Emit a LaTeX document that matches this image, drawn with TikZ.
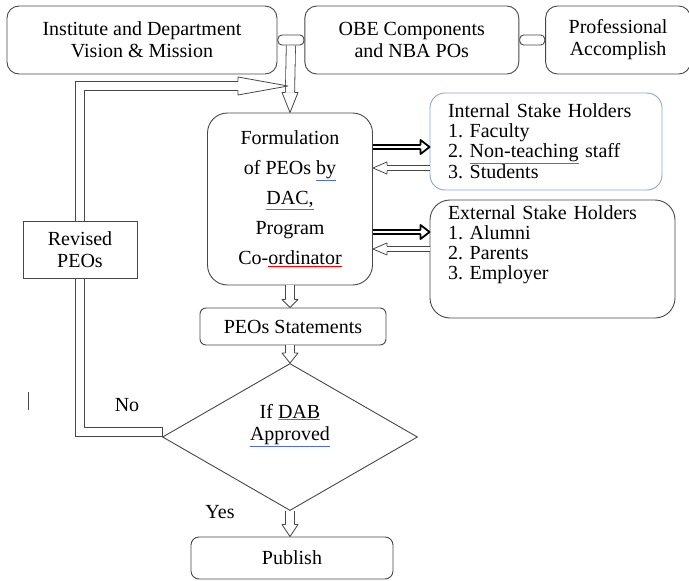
\documentclass[tikz,border=0pt]{standalone}
\usepackage{fontspec}
\setmainfont{Liberation Serif}
\frenchspacing
\usetikzlibrary{positioning,calc,shapes.geometric}

\definecolor{linegray}{HTML}{474747}
\definecolor{stakeblue}{HTML}{8DA5C8}
\definecolor{gramblue}{HTML}{4F6FD0}

\newcommand{\gramline}[1]{\textcolor{gramblue}{\underline{\textcolor{black}{#1}}}}
\newcommand{\spellline}[1]{\textcolor{red}{\underline{\textcolor{black}{#1}}}}

\tikzset{
  pics/hollow head/.style n args={3}{code={
    \draw[fill=white, line join=round] (0,-#2) -- (0,-#3) -- (#1,0) -- (0,#3) -- (0,#2);
  }},
}

\begin{document}
\begin{tikzpicture}[x=1pt, y=-1pt,
    box/.style={draw=linegray, line width=0.9pt, rounded corners=12pt, align=center, inner sep=0pt, font=\fontsize{20}{22}\selectfont},
    link/.style={draw=linegray, line width=0.9pt, rounded corners=4pt, minimum width=26pt, minimum height=10pt, inner sep=0pt},
    stake/.style={box, align=left, inner xsep=18pt, inner ysep=0pt, font=\fontsize{20}{20}\selectfont},
    pipe/.style={draw=linegray, double=white, double distance=8.4pt, line width=0.8pt},
    boldpipe/.style={draw=black, double=white, double distance=1.4pt, line width=2.2pt},
    thinpipe/.style={draw=linegray, double=white, double distance=4.6pt, line width=0.8pt},
    head/.style={color=linegray, line width=0.8pt},
    boldhead/.style={color=black, line width=1.8pt}]

  \useasboundingbox (0,0) rectangle (689,581);

  \node[box, minimum width=270pt, minimum height=68pt] (inst) at (142,40) {Institute and Department\\Vision \& Mission};
  \node[link] (conA) [right=0pt of inst] {};
  \node[box, minimum width=214pt, minimum height=68pt] (obe) [right=0pt of conA] {OBE Components\\and NBA POs};
  \node[link, minimum width=25pt] (conB) [right=0pt of obe] {};
  \node[box, minimum width=145pt, minimum height=68pt] (prof) [right=0pt of conB] {Professional\\Accomplish};

  \node[box, rounded corners=20pt, minimum width=165pt, minimum height=172pt, font=\fontsize{20}{30}\selectfont] (formul) at (290,199) {Formulation\\of PEOs \gramline{by}\\\gramline{DAC,}\\Program\\Co-\spellline{ordinator}};
  \node[stake, draw=stakeblue, rounded corners=15pt, text width=196pt, minimum height=97pt] (inner) at (546,141.5) {Internal Stake Holders\\1. Faculty\\2. \gramline{Non-teaching} staff\\3. Students};
  \node[stake, rounded corners=20pt, text width=209pt, minimum height=118pt] (outer) at (552.5,259) {External Stake Holders\\1. Alumni\\2. Parents\\3. Employer\\[12pt]\mbox{}};
  \node[box, rounded corners=6pt, minimum width=186pt, minimum height=37pt] (peos) at (293,326.5) {PEOs Statements};
  \node[box, diamond, sharp corners, aspect=1.73, minimum width=255pt, minimum height=147pt] (dab) at (290,437) {If \gramline{DAB}\\\gramline{Approved}\\[8pt]\mbox{}};
  \node[box, rounded corners=8pt, minimum width=202pt, minimum height=42pt] (publish) at (292,558) {Publish};
  \node[box, sharp corners, fill=white, minimum width=114pt, minimum height=57pt] (revised) at (80,250) {Revised\\PEOs};
  \node[font=\fontsize{20}{22}\selectfont] (lblno) at (127,405) {No};
  \node[font=\fontsize{20}{22}\selectfont] (lblyes) at (220,512) {Yes};

  \coordinate (merge) at (288,86);
  \coordinate (inA) at ($(inner.west)+(0,5.5)$);
  \coordinate (inB) at ($(inner.west)+(0,26.5)$);
  \coordinate (outA) at ($(outer.west)+(0,-27)$);
  \coordinate (outB) at ($(outer.west)+(0,-10)$);

  \draw[pipe] (conA.south) -- ($(formul.north)+(0,-20)$);
  \pic[head, rotate=-90] at ($(formul.north)+(0,-20)$) {hollow head={20}{4.6}{8}};
  \draw[pipe] (formul.south) -- ($(formul.south |- peos.north)+(0,-8)$);
  \pic[head, rotate=-90] at ($(formul.south |- peos.north)+(0,-8)$) {hollow head={8}{4.6}{8}};
  \draw[pipe] (dab.north |- peos.south) -- ($(dab.north)+(0,-10)$);
  \pic[head, rotate=-90] at ($(dab.north)+(0,-10)$) {hollow head={10}{4.6}{8}};
  \draw[pipe] (dab.south) -- ($(dab.south |- publish.north)+(0,-12)$);
  \pic[head, rotate=-90] at ($(dab.south |- publish.north)+(0,-12)$) {hollow head={12}{4.6}{8}};

  \draw[pipe] ($(dab.west)+(0,-5)$) -| (revised.south);
  \draw[linegray, line width=0.8pt] ($(dab.west)+(0,-9.6)$) -- ($(dab.west)+(0,-0.4)$);
  \draw[pipe] (revised.north) |- ($(merge)+(-50,0)$);
  \pic[head] at ($(merge)+(-50,0)$) {hollow head={50}{4.6}{9}};

  \draw[boldpipe] (formul.east |- inA) -- ($(inA)+(-9,0)$);
  \pic[boldhead] at ($(inA)+(-9,0)$) {hollow head={9}{1.8}{7}};
  \draw[thinpipe] (inB) -- ($(formul.east |- inB)+(14,0)$);
  \pic[head, rotate=180] at ($(formul.east |- inB)+(14,0)$) {hollow head={14}{2.7}{6}};
  \draw[boldpipe] (formul.east |- outA) -- ($(outA)+(-9,0)$);
  \pic[boldhead] at ($(outA)+(-9,0)$) {hollow head={9}{1.8}{7}};
  \draw[thinpipe] (outB) -- ($(formul.east |- outB)+(14,0)$);
  \pic[head, rotate=180] at ($(formul.east |- outB)+(14,0)$) {hollow head={14}{2.7}{6}};

  \draw[linegray, line width=1pt] (28,392) -- (28,410);

\end{tikzpicture}
\end{document}
